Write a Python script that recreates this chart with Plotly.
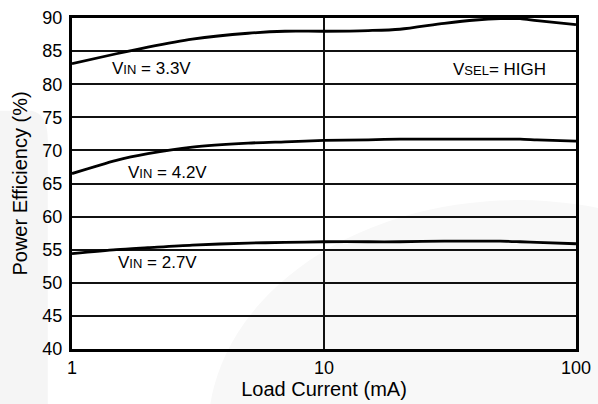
import numpy as np
import plotly.graph_objects as go

# Load current (mA) sample points
load_ma = [1, 1.5, 2, 3, 5, 7, 10, 15, 20, 30, 40, 50, 60, 70, 100]

# Power efficiency (%) for each supply voltage
eff_3v3 = [83.1, 84.6, 85.6, 86.8, 87.7, 88.0, 88.0, 88.1, 88.3, 89.2, 89.7, 89.9, 89.9, 89.6, 89.0]
eff_4v2 = [66.5, 68.5, 69.5, 70.5, 71.1, 71.3, 71.5, 71.6, 71.7, 71.7, 71.7, 71.7, 71.7, 71.6, 71.4]
eff_2v7 = [54.4, 55.0, 55.3, 55.7, 56.0, 56.1, 56.2, 56.2, 56.2, 56.3, 56.3, 56.3, 56.2, 56.1, 55.9]

series = [eff_3v3, eff_4v2, eff_2v7]

# Curve labels: text, x (mA), y (%)
label_text = [
    "V<span style='font-size:13px'>IN</span> = 3.3V",
    "V<span style='font-size:13px'>IN</span> = 4.2V",
    "V<span style='font-size:13px'>IN</span> = 2.7V",
    "V<span style='font-size:13px'>SEL</span>= HIGH",
]
label_x = [2.06, 2.40, 2.19, 49.9]
label_y = [82.4, 66.7, 53.1, 82.2]

x_ticks = [1, 10, 100]
y_ticks = list(range(40, 91, 5))

FONT = "Liberation Sans, Arial, sans-serif"

fig = go.Figure()
for s in series:
    fig.add_trace(go.Scatter(
        x=load_ma, y=s, mode="lines",
        line=dict(color="black", width=2.8, shape="spline", smoothing=0.8),
        showlegend=False, hoverinfo="skip",
    ))

for t, lx, ly in zip(label_text, label_x, label_y):
    fig.add_annotation(
        x=np.log10(lx), y=ly, xref="x", yref="y", text=t, showarrow=False,
        font=dict(family=FONT, size=17, color="black"),
    )

# faint background watermark shapes behind the plotting area
fig.add_shape(type="path", xref="paper", yref="paper", layer="below",
              path="M -0.15 -0.2 L -0.15 0.72 L -0.08 0.72 Q -0.048 0.71 -0.048 0.63 L -0.048 -0.2 Z",
              fillcolor="#f5f5f5", line=dict(width=0))
fig.add_shape(type="circle", xref="paper", yref="paper", layer="below",
              x0=0.27, x1=1.5, y0=-0.95, y1=0.45,
              fillcolor="#f8f8f8", line=dict(width=0))

fig.update_xaxes(
    type="log", range=[0, 2], tickvals=x_ticks, ticktext=[str(v) for v in x_ticks],
    showgrid=True, gridcolor="#111111", gridwidth=1.6,
    showline=True, linecolor="black", linewidth=3, mirror=True,
    ticks="", ticklen=0, automargin=False,
    tickfont=dict(family=FONT, size=18, color="black"),
    title=dict(text="Load Current (mA)", standoff=4,
               font=dict(family=FONT, size=20, color="black")),
    zeroline=False,
)
fig.update_yaxes(
    range=[40, 90], tickvals=y_ticks,
    showgrid=True, gridcolor="#111111", gridwidth=1.6,
    showline=True, linecolor="black", linewidth=3, mirror=True,
    ticks="", ticklen=0, ticklabelstandoff=3, automargin=False,
    tickfont=dict(family=FONT, size=18, color="black"),
    title=dict(text="Power Efficiency (%)", standoff=10,
               font=dict(family=FONT, size=20, color="black")),
    zeroline=False,
)

fig.update_layout(
    width=598, height=404,
    margin=dict(l=72, r=22, t=18, b=55),
    paper_bgcolor="white", plot_bgcolor="white",
)

fig.write_html("out.html")
